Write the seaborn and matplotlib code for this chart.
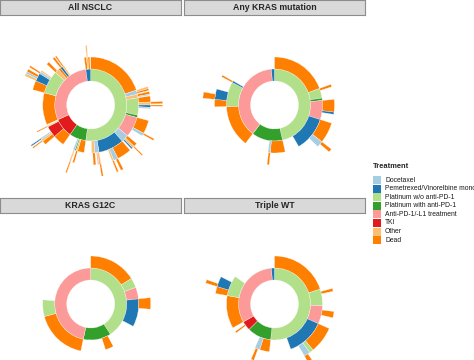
import numpy as np
import matplotlib.pyplot as plt
import seaborn as sns
from matplotlib.patches import Rectangle

sns.set_style("white")
plt.rcParams['font.family'] = ['Liberation Sans', 'DejaVu Sans']

# treatment categories (legend order) and short codes
treatments = ["Docetaxel", "Pemetrexed/Vinorelbine monotherapy", "Platinum w/o anti-PD-1",
              "Platinum with anti-PD-1", "Anti-PD-1/-L1 treatment", "TKI", "Other", "Dead"]
codes = ["DOC", "PEM", "PLA", "PLP", "PD1", "TKI", "OTH", "DEAD"]
palette = sns.color_palette("Paired", 8)
colors = dict(zip(codes, palette))

panel_titles = ["All NSCLC", "Any KRAS mutation", "KRAS G12C", "Triple WT"]

# each node: (treatment code, % of patients, next lines) ; "NA" = not drawn
all_nsclc = [
    ("PLA", 52.2, [
        ("DEAD", 20.0, []),
        ("DOC", 1.4, [("OTH", 0.6, []), ("DEAD", 0.5, [])]),
        ("OTH", 1.2, [("DEAD", 0.7, []), ("DOC", 0.3, [])]),
        ("PLA", 5.8, [("DEAD", 1.6, []), ("OTH", 0.8, [("DEAD", 0.5, [])]),
                      ("PEM", 0.6, [("DEAD", 0.3, [])]), ("DOC", 0.4, [])]),
        ("PLP", 0.8, []),
        ("PD1", 6.9, [("DEAD", 3.6, []), ("DOC", 0.8, [("DEAD", 0.4, [])])]),
        ("DOC", 2.5, [("DEAD", 1.0, []), ("OTH", 0.6, [("DEAD", 0.3, [])]), ("PEM", 0.4, [])]),
        ("PEM", 8.6, [("DEAD", 3.9, []), ("DOC", 1.2, [("DEAD", 0.6, [])]),
                      ("OTH", 0.5, [("DEAD", 0.4, [])])]),
        ("DOC", 1.4, [("OTH", 0.6, [("DEAD", 0.4, [])]), ("PD1", 0.3, [])]),
        ("OTH", 1.1, [("DEAD", 0.7, [])]),
    ]),
    ("PLP", 7.5, [
        ("DEAD", 2.2, []),
        ("OTH", 0.6, [("DEAD", 0.5, [])]),
        ("PLP", 0.4, []),
        ("DOC", 0.6, [("OTH", 0.4, [("DEAD", 0.3, [])])]),
    ]),
    ("TKI", 8.6, [
        ("DEAD", 3.9, []),
        ("TKI", 3.9, [("DEAD", 1.1, []), ("OTH", 0.6, [("DEAD", 0.3, [])]),
                      ("DOC", 0.4, [("PEM", 0.3, [])])]),
        ("OTH", 0.4, [("DEAD", 0.3, [])]),
    ]),
    ("PD1", 29.5, [
        ("DEAD", 10.8, []),
        ("PLA", 7.8, [("DEAD", 2.5, []),
                      ("PEM", 2.2, [("OTH", 0.6, []), ("DOC", 0.5, []), ("DEAD", 0.6, [])]),
                      ("DOC", 0.6, [("DEAD", 0.4, [])]), ("OTH", 0.4, [])]),
        ("OTH", 1.4, [("DEAD", 0.8, [])]),
        ("DEAD", 0.8, []),
        ("PEM", 0.8, [("DEAD", 0.6, [])]),
        ("OTH", 0.6, [("DEAD", 0.4, [])]),
    ]),
    ("PEM", 2.2, [
        ("DEAD", 0.8, []),
        ("OTH", 0.5, [("OTH", 0.4, [])]),
        ("DEAD", 0.6, []),
    ]),
]

any_kras = [
    ("PLA", 46.4, [
        ("DEAD", 19.4, []),
        ("PLA", 3.3, [("DEAD", 0.7, [])]),
        ("PLP", 0.8, []),
        ("PD1", 6.4, [("DEAD", 3.4, []), ("PEM", 0.6, [])]),
        ("PEM", 11.7, [("DEAD", 5.6, []), ("DOC", 1.7, [("DEAD", 0.8, [])])]),
    ]),
    ("PLP", 13.9, [
        ("DEAD", 5.0, []),
        ("DOC", 0.8, [("DEAD", 0.6, [])]),
    ]),
    ("PD1", 38.3, [
        ("DEAD", 14.2, []),
        ("PLA", 8.3, [("DEAD", 2.0, []), ("PEM", 2.8, [("DEAD", 1.4, [])])]),
        ("PEM", 0.6, [("DEAD", 0.5, [])]),
    ]),
    ("PEM", 1.4, []),
]

kras_g12c = [
    ("PLA", 40.8, [
        ("DEAD", 16.1, []),
        ("PLA", 3.3, []),
        ("PD1", 3.9, []),
        ("PEM", 9.4, [("DEAD", 3.1, [])]),
    ]),
    ("PLP", 12.5, [
        ("NA", 1.4, []),
        ("DEAD", 2.8, []),
    ]),
    ("PD1", 46.7, [
        ("DEAD", 17.5, []),
        ("PLA", 5.6, []),
    ]),
]

triple_wt = [
    ("PLA", 51.7, [
        ("DEAD", 20.0, []),
        ("PLA", 5.6, [("NA", 0.8, []), ("DEAD", 0.8, [])]),
        ("PD1", 6.1, [("NA", 1.4, []), ("DEAD", 1.7, [])]),
        ("PEM", 12.8, [("DEAD", 7.2, []), ("PLA", 1.1, []),
                       ("DOC", 1.7, [("NA", 0.6, []), ("DEAD", 1.1, [])])]),
    ]),
    ("PLP", 10.8, [
        ("DEAD", 3.3, []),
        ("DOC", 1.7, [("NA", 0.6, []), ("DEAD", 0.8, [])]),
    ]),
    ("TKI", 4.2, [
        ("NA", 2.2, []),
        ("DEAD", 0.6, []),
    ]),
    ("PD1", 31.9, [
        ("DEAD", 11.1, []),
        ("PLA", 6.9, [("DEAD", 1.9, []), ("PEM", 2.8, [("DEAD", 0.8, [])])]),
    ]),
    ("PEM", 1.4, []),
]

panels = [all_nsclc, any_kras, kras_g12c, triple_wt]


def draw(ax, nodes, start, level):
    pos = start
    for code, pct, kids in nodes:
        width = pct / 100 * 2 * np.pi
        if code != "NA":
            ax.bar(pos, 1, width=width, bottom=level + 1, align="edge",
                   color=colors[code], edgecolor="white", linewidth=0.2)
        draw(ax, kids, pos, level + 1)
        pos += width


W, H = 474, 360
fig = plt.figure(figsize=(W / 100, H / 100), dpi=100)

centers = [(90.7, 105), (274.5, 105), (90.7, 304), (274.5, 304)]
strips = [(0, 0, 181), (184, 0, 365), (0, 198, 181), (184, 198, 365)]
R = 84

for data, title, (cx, cy), (sx0, sy, sx1) in zip(panels, panel_titles, centers, strips):
    ax = fig.add_axes([(cx - R) / W, (H - cy - R) / H, 2 * R / W, 2 * R / H], projection="polar")
    ax.set_theta_zero_location("N")
    ax.set_theta_direction(-1)
    draw(ax, data, 0.0, 1)
    ax.set_ylim(0, 7)
    ax.set_axis_off()

    sax = fig.add_axes([sx0 / W, (H - sy - 15) / H, (sx1 - sx0) / W, 15 / H])
    sax.set_facecolor("#D9D9D9")
    sax.set_xticks([])
    sax.set_yticks([])
    for sp in sax.spines.values():
        sp.set_color("#8C8C8C")
        sp.set_linewidth(0.8)
    sax.text(0.5, 0.5, title, ha="center", va="center", fontsize=6.3,
             fontweight="bold", transform=sax.transAxes)

# legend drawn by hand so row spacing matches
fig.text(373 / W, 1 - 167 / H, "Treatment", fontsize=5.4, fontweight="bold",
         ha="left", va="center")
for i, (lab, col) in enumerate(zip(treatments, palette)):
    yc = 180 + i * 8.6
    fig.add_artist(Rectangle((373 / W, 1 - (yc + 4) / H), 8 / W, 8 / H,
                             transform=fig.transFigure, facecolor=col, edgecolor="none"))
    fig.text(385 / W, 1 - yc / H, lab, fontsize=4.9, ha="left", va="center", color="#1A1A1A")

fig.savefig("out.png", dpi=100)
